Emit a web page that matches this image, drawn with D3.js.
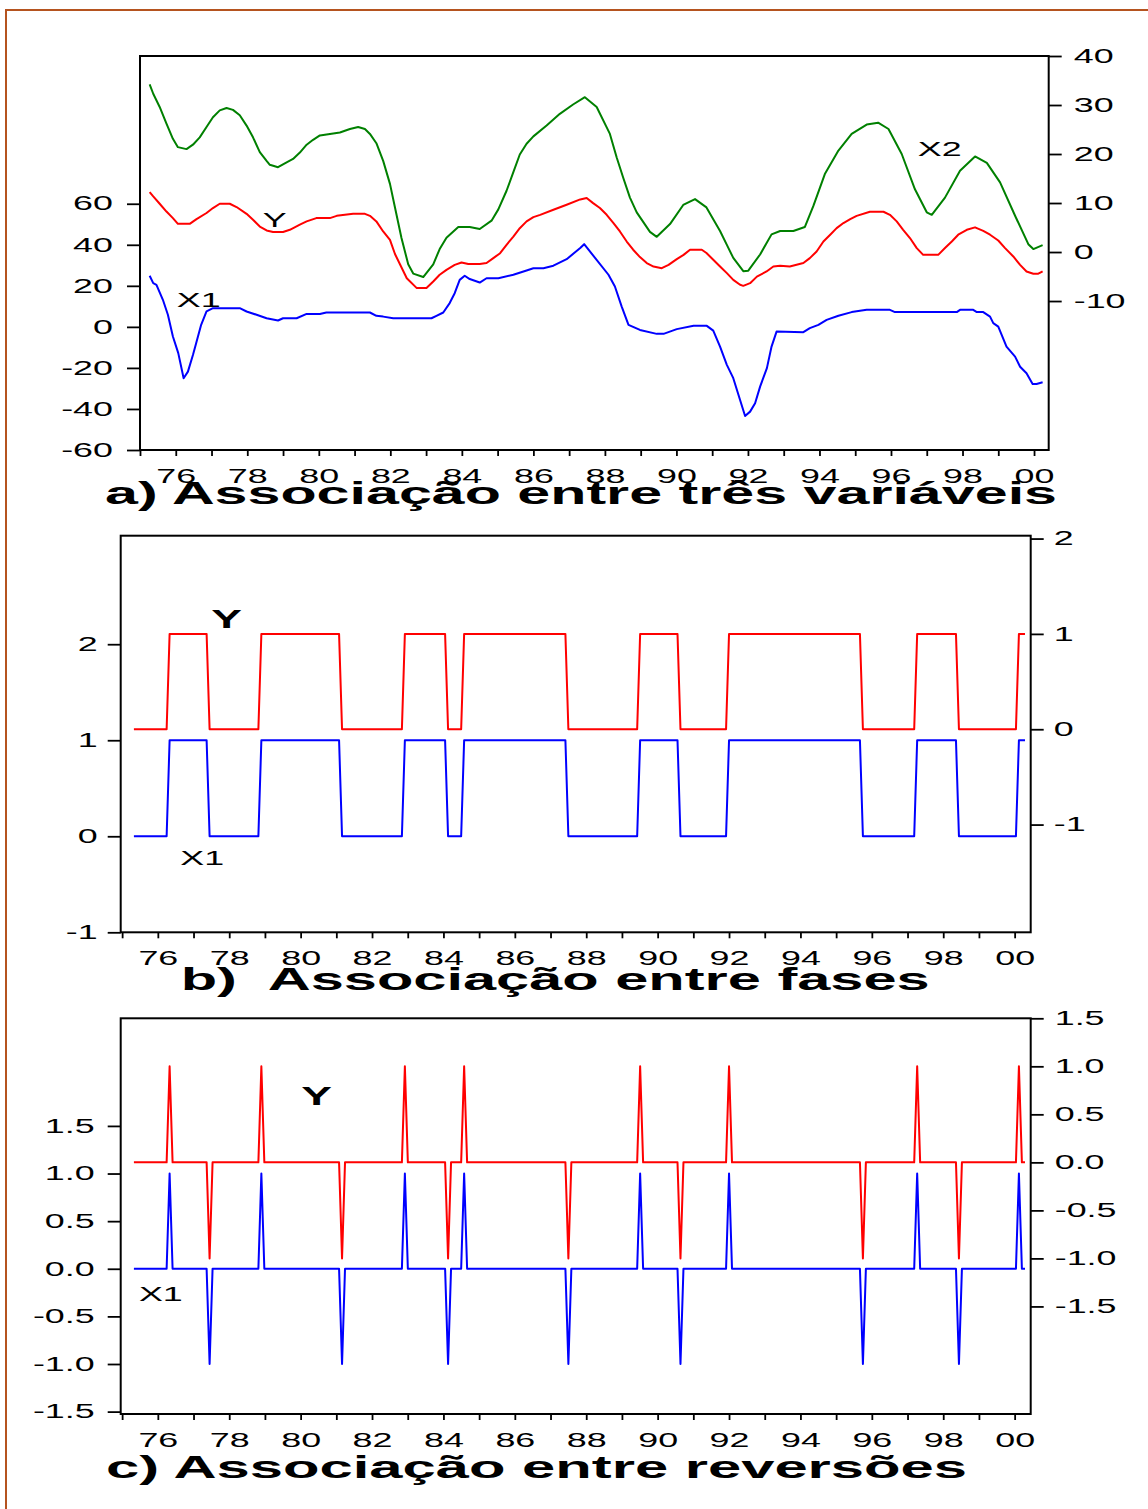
<!doctype html>
<html>
<head>
<meta charset="utf-8">
<style>
  body { margin: 0; background: #fff; }
  svg text { font-family: "Liberation Sans", Arial, sans-serif; fill: #000; }
  .wide { transform-box: fill-box; transform: scaleX(1.84); }
  .wide-end { transform-origin: 100% 50%; }
  .wide-start { transform-origin: 0% 50%; }
  .wide-mid { transform-origin: 50% 50%; }
  .series { fill: none; stroke-width: 2; stroke-linejoin: round; }
</style>
<script src="https://d3js.org/d3.v7.min.js"></script>
</head>
<body>
<svg width="1148" height="1509"></svg>
<script>

// ---- panel a: levels (date, value) ----
var x2Series = [[1975.27,34.2],[1975.37,32.3],[1975.55,29.6],[1975.74,26.2],[1975.92,23.1],[1976.06,21.4],[1976.30,21.0],[1976.48,21.9],[1976.67,23.4],[1976.86,25.5],[1977.04,27.5],[1977.23,28.9],[1977.42,29.4],[1977.60,29.0],[1977.79,27.9],[1977.98,25.8],[1978.16,23.4],[1978.35,20.4],[1978.54,18.6],[1978.63,17.8],[1978.86,17.3],[1979.10,18.3],[1979.28,19.0],[1979.47,20.3],[1979.66,21.9],[1979.84,22.9],[1980.03,23.8],[1980.31,24.1],[1980.59,24.4],[1980.87,25.1],[1981.10,25.5],[1981.29,25.1],[1981.43,24.1],[1981.61,22.2],[1981.80,18.6],[1981.99,13.9],[1982.13,9.1],[1982.31,2.9],[1982.50,-2.5],[1982.64,-4.4],[1982.92,-5.1],[1983.20,-2.5],[1983.38,0.6],[1983.57,2.9],[1983.90,5.1],[1984.22,5.1],[1984.50,4.7],[1984.83,6.4],[1985.02,8.7],[1985.25,12.5],[1985.44,16.3],[1985.62,19.9],[1985.81,22.1],[1986.00,23.6],[1986.37,25.8],[1986.74,28.2],[1987.11,30.1],[1987.44,31.6],[1987.77,29.6],[1988.14,24.1],[1988.33,19.3],[1988.51,15.2],[1988.70,11.1],[1988.89,8.1],[1989.26,4.1],[1989.45,3.1],[1989.82,5.7],[1990.19,9.6],[1990.52,10.8],[1990.84,9.1],[1991.22,4.3],[1991.40,1.6],[1991.59,-1.2],[1991.87,-3.9],[1992.01,-3.8],[1992.34,-0.5],[1992.66,3.6],[1992.90,4.3],[1993.27,4.3],[1993.59,5.1],[1993.83,9.4],[1994.15,15.9],[1994.53,20.7],[1994.90,24.1],[1995.32,26.0],[1995.64,26.4],[1995.93,25.1],[1996.30,20.0],[1996.67,12.8],[1997.00,8.1],[1997.14,7.6],[1997.51,11.1],[1997.93,16.6],[1998.35,19.5],[1998.68,18.2],[1999.05,14.2],[1999.47,7.4],[1999.84,1.6],[1999.98,0.6],[2000.24,1.4]];

var ySeries = [[1975.27,65.7],[1975.37,63.6],[1975.55,60.0],[1975.74,56.2],[1975.92,53.0],[1976.06,50.2],[1976.39,50.2],[1976.58,52.5],[1976.86,55.5],[1977.04,57.9],[1977.23,60.0],[1977.51,60.0],[1977.70,58.4],[1977.98,55.1],[1978.16,52.2],[1978.35,48.9],[1978.54,47.0],[1978.72,46.2],[1979.00,46.2],[1979.19,47.3],[1979.47,49.8],[1979.66,51.4],[1979.93,53.0],[1980.31,53.0],[1980.50,54.1],[1980.96,55.1],[1981.29,55.1],[1981.43,54.1],[1981.61,51.4],[1981.80,46.5],[1981.99,42.4],[1982.13,35.5],[1982.46,23.7],[1982.74,18.9],[1983.01,18.9],[1983.20,22.1],[1983.38,25.4],[1983.57,27.8],[1983.80,30.2],[1983.99,31.4],[1984.18,30.6],[1984.50,30.6],[1984.69,31.1],[1984.88,33.5],[1985.07,35.9],[1985.25,40.0],[1985.44,44.0],[1985.62,48.1],[1985.81,51.4],[1986.00,53.5],[1986.19,54.6],[1986.56,57.1],[1986.93,59.5],[1987.31,62.1],[1987.49,62.8],[1987.67,60.3],[1987.86,57.9],[1988.05,54.6],[1988.24,50.6],[1988.42,46.5],[1988.61,41.6],[1988.79,37.6],[1988.98,34.0],[1989.17,31.1],[1989.36,29.4],[1989.59,28.6],[1989.78,30.2],[1990.01,33.0],[1990.20,35.1],[1990.38,37.6],[1990.71,37.6],[1990.84,36.0],[1991.03,32.7],[1991.22,29.4],[1991.41,26.2],[1991.59,22.9],[1991.78,20.5],[1991.87,20.0],[1992.06,21.3],[1992.25,24.5],[1992.52,27.0],[1992.71,29.4],[1992.90,29.8],[1993.17,29.4],[1993.55,31.1],[1993.73,33.5],[1993.92,36.7],[1994.11,41.6],[1994.30,44.9],[1994.48,48.1],[1994.67,50.6],[1994.86,52.5],[1995.04,54.1],[1995.41,56.1],[1995.79,56.1],[1995.97,54.6],[1996.16,51.4],[1996.34,47.3],[1996.53,43.3],[1996.72,38.4],[1996.90,35.1],[1997.32,35.1],[1997.51,38.4],[1997.70,41.6],[1997.88,44.9],[1998.12,47.3],[1998.35,48.5],[1998.58,46.8],[1998.77,44.9],[1999.00,42.1],[1999.19,38.4],[1999.42,34.3],[1999.61,30.2],[1999.79,27.0],[1999.98,25.9],[2000.12,25.9],[2000.24,27.0]];

var x1Series = [[1975.27,24.9],[1975.37,21.3],[1975.46,20.5],[1975.64,13.2],[1975.78,5.9],[1975.92,-4.7],[1976.07,-12.8],[1976.22,-25.0],[1976.34,-21.8],[1976.48,-13.7],[1976.57,-8.0],[1976.71,1.0],[1976.86,7.5],[1977.04,9.1],[1977.79,9.1],[1977.98,7.5],[1978.26,5.9],[1978.54,4.2],[1978.86,3.1],[1979.00,4.2],[1979.38,4.2],[1979.66,6.3],[1980.03,6.3],[1980.21,7.0],[1981.43,7.0],[1981.61,5.4],[1981.80,5.0],[1982.08,4.2],[1983.15,4.2],[1983.29,5.4],[1983.48,7.0],[1983.66,11.6],[1983.80,16.4],[1983.94,22.9],[1984.08,24.9],[1984.22,23.3],[1984.50,21.6],[1984.69,23.7],[1985.02,23.7],[1985.44,25.4],[1985.81,27.5],[1986.00,28.6],[1986.28,28.6],[1986.56,29.8],[1986.93,33.0],[1987.31,38.4],[1987.42,40.3],[1987.73,33.5],[1988.10,25.4],[1988.28,19.7],[1988.47,9.9],[1988.66,1.0],[1988.98,-1.5],[1989.45,-3.4],[1989.64,-3.4],[1990.01,-1.1],[1990.48,0.5],[1990.85,0.5],[1991.03,-1.8],[1991.22,-9.6],[1991.41,-18.5],[1991.59,-25.0],[1991.78,-35.6],[1991.92,-43.4],[1992.06,-41.3],[1992.20,-37.2],[1992.34,-29.1],[1992.53,-20.1],[1992.66,-9.6],[1992.80,-2.3],[1993.55,-2.6],[1993.73,-0.6],[1993.97,1.0],[1994.20,3.4],[1994.53,5.4],[1994.90,7.2],[1995.32,8.3],[1995.97,8.3],[1996.11,7.2],[1997.84,7.2],[1997.93,8.3],[1998.30,8.3],[1998.40,7.2],[1998.58,7.2],[1998.77,5.0],[1998.86,1.8],[1999.00,0.1],[1999.23,-9.6],[1999.47,-14.5],[1999.61,-19.4],[1999.79,-22.6],[1999.96,-27.8],[2000.07,-27.8],[2000.24,-27.0]];

// ---- panel b: phases, date at which each new phase is reached ----
var yPhases  = [[1975.33,0],[1976.33,1],[1977.45,0],[1978.90,1],[1981.16,0],[1982.92,1],[1984.13,0],[1984.58,1],[1987.50,0],[1989.51,1],[1990.64,0],[1992.00,1],[1995.75,0],[1997.27,1],[1998.44,0],[2000.12,1]];
var x1Phases = [[1975.33,0],[1976.33,1],[1977.45,0],[1978.90,1],[1981.16,0],[1982.92,1],[1984.13,0],[1984.58,1],[1987.50,0],[1989.51,1],[1990.64,0],[1992.00,1],[1995.75,0],[1997.27,1],[1998.44,0],[2000.12,1]];

// ---- panel c: reversals (date, +1 / -1), zero elsewhere ----
var yReversals  = [[1976.33,1],[1977.45,-1],[1978.90,1],[1981.16,-1],[1982.92,1],[1984.13,-1],[1984.58,1],[1987.50,-1],[1989.51,1],[1990.64,-1],[1992.00,1],[1995.75,-1],[1997.27,1],[1998.44,-1],[2000.12,1]];
var x1Reversals = [[1976.33,1],[1977.45,-1],[1978.90,1],[1981.16,-1],[1982.92,1],[1984.13,-1],[1984.58,1],[1987.50,-1],[1989.51,1],[1990.64,-1],[1992.00,1],[1995.75,-1],[1997.27,1],[1998.44,-1],[2000.12,1]];

var seriesStart = 1975.33, seriesEnd = 2000.29, month = 1 / 12;

var yearTicks = d3.range(1975, 2001);
var aLeftTicks = [-60, -40, -20, 0, 20, 40, 60];
var aRightTicks = [-10, 0, 10, 20, 30, 40];
var bTicks = [-1, 0, 1, 2];
var cTicks = [-1.5, -1, -0.5, 0, 0.5, 1, 1.5];

// monthly step series from phase start dates
function phaseLine(ph) {
    var pts = [ph[0]];
    for (var i = 1; i < ph.length; i++) {
        pts.push([ph[i][0] - month, ph[i - 1][1]]);
        pts.push(ph[i]);
    }
    pts.push([seriesEnd, ph[ph.length - 1][1]]);
    return pts;
}
function spikeLine(rev) {
    var pts = [[seriesStart, 0]];
    rev.forEach(function(r) {
        pts.push([r[0] - month, 0], r, [r[0] + month, 0]);
    });
    pts.push([seriesEnd, 0]);
    return pts;
}

var svg = d3.select("svg");

svg.append("rect")
   .attr("x", 6).attr("y", 10)
   .attr("width", 1170).attr("height", 1530)
   .attr("fill", "none")
   .attr("stroke", "#b5531f")
   .attr("stroke-width", 2);

var hyphen = function(f) { return function(d) { return f(d).replace("\u2212", "-"); }; };
var yearFmt = function(d) { return d % 2 === 0 ? String(d % 100).padStart(2, "0") : ""; };

function styleAxis(g, cls) {
    g.attr("font-size", null).attr("font-family", null);
    g.select(".domain").remove();
    g.selectAll(".tick line").attr("stroke", "#000").attr("stroke-width", 1.8);
    g.selectAll(".tick text")
     .attr("fill", "#000")
     .style("font-size", "19.5px")
     .attr("class", "wide " + cls);
}

function panel(p) {
    var x = d3.scaleLinear().domain(p.xDomain).range([p.left, p.right]);
    var yL = d3.scaleLinear().domain(p.yLeft).range([p.bottom, p.top]);
    var yR = d3.scaleLinear().domain(p.yRight).range([p.bottom, p.top]);

    var gx = svg.append("g")
                .attr("transform", "translate(0," + p.bottom + ")")
                .call(d3.axisBottom(x).tickValues(yearTicks).tickFormat(yearFmt)
                        .tickSize(6).tickPadding(13));
    styleAxis(gx, "wide-mid");

    var gl = svg.append("g")
                .attr("transform", "translate(" + p.left + ",0)")
                .call(d3.axisLeft(yL).tickValues(p.leftTicks).tickFormat(hyphen(p.fmt))
                        .tickSize(13).tickPadding(p.padL));
    styleAxis(gl, "wide-end");

    var gr = svg.append("g")
                .attr("transform", "translate(" + p.right + ",0)")
                .call(d3.axisRight(yR).tickValues(p.rightTicks).tickFormat(hyphen(p.fmt))
                        .tickSize(13).tickPadding(p.padR));
    styleAxis(gr, "wide-start");

    p.series.forEach(function(s) {
        var y = s.axis === "R" ? yR : yL;
        svg.append("path")
           .datum(s.data)
           .attr("class", "series")
           .attr("stroke", s.color)
           .attr("d", d3.line().x(function(d) { return x(d[0]); })
                               .y(function(d) { return y(d[1]); }));
    });

    svg.append("rect")
       .attr("x", p.left).attr("y", p.top)
       .attr("width", p.right - p.left).attr("height", p.bottom - p.top)
       .attr("fill", "none")
       .attr("stroke", "#000")
       .attr("stroke-width", 2);

    p.labels.forEach(function(l) {
        var y = l.axis === "R" ? yR : yL;
        svg.append("text")
           .attr("x", x(l.at[0]))
           .attr("y", y(l.at[1]))
           .attr("class", "wide wide-start")
           .style("font-size", l.bold ? "25px" : "19.5px")
           .style("font-weight", l.bold ? "bold" : "normal")
           .text(l.text);
    });

    svg.append("text")
       .attr("x", p.title.x)
       .attr("y", p.title.y)
       .attr("textLength", p.title.len)
       .attr("lengthAdjust", "spacingAndGlyphs")
       .style("font-size", "31px")
       .style("font-weight", "bold")
       .style("white-space", "pre")
       .text(p.title.text);
}

panel({
    left: 140, right: 1048.7, top: 56, bottom: 450,
    xDomain: [1975, 2000.41], yLeft: [-60, 132], yRight: [-40.4, 40],
    leftTicks: aLeftTicks, rightTicks: aRightTicks,
    fmt: d3.format("d"), padL: 14, padR: 12,
    series: [
        { data: x2Series, axis: "R", color: "#008000" },
        { data: ySeries, axis: "L", color: "#ff0000" },
        { data: x1Series, axis: "L", color: "#0000ff" }
    ],
    labels: [
        { text: "Y", at: [1978.43, 48.8], axis: "L" },
        { text: "X1", at: [1976.03, 9.8], axis: "L" },
        { text: "X2", at: [1996.75, 19.5], axis: "R" }
    ],
    title: { text: "a) Associação entre três variáveis", x: 105, y: 504, len: 952 }
});

panel({
    left: 120.7, right: 1030.7, top: 535.7, bottom: 932.3,
    xDomain: [1974.96, 2000.45], yLeft: [-1, 3.13], yRight: [-2.13, 2.03],
    leftTicks: bTicks, rightTicks: bTicks,
    fmt: d3.format("d"), padL: 10, padR: 10,
    series: [
        { data: phaseLine(yPhases), axis: "R", color: "#ff0000" },
        { data: phaseLine(x1Phases), axis: "L", color: "#0000ff" }
    ],
    labels: [
        { text: "Y", at: [1977.5, 1.06], axis: "R", bold: true },
        { text: "X1", at: [1976.63, -0.3], axis: "L" }
    ],
    title: { text: "b)  Associação entre fases", x: 180.7, y: 990, len: 749 }
});

panel({
    left: 120.7, right: 1030.7, top: 1018.3, bottom: 1414,
    xDomain: [1974.96, 2000.45], yLeft: [-1.525, 2.63], yRight: [-2.62, 1.5],
    leftTicks: cTicks, rightTicks: cTicks,
    fmt: d3.format(".1f"), padL: 13, padR: 11,
    series: [
        { data: spikeLine(yReversals), axis: "R", color: "#ff0000" },
        { data: spikeLine(x1Reversals), axis: "L", color: "#0000ff" }
    ],
    labels: [
        { text: "Y", at: [1980.02, 0.6], axis: "R", bold: true },
        { text: "X1", at: [1975.47, -0.34], axis: "L" }
    ],
    title: { text: "c) Associação entre reversões", x: 106, y: 1478, len: 861 }
});

</script>
</body>
</html>
